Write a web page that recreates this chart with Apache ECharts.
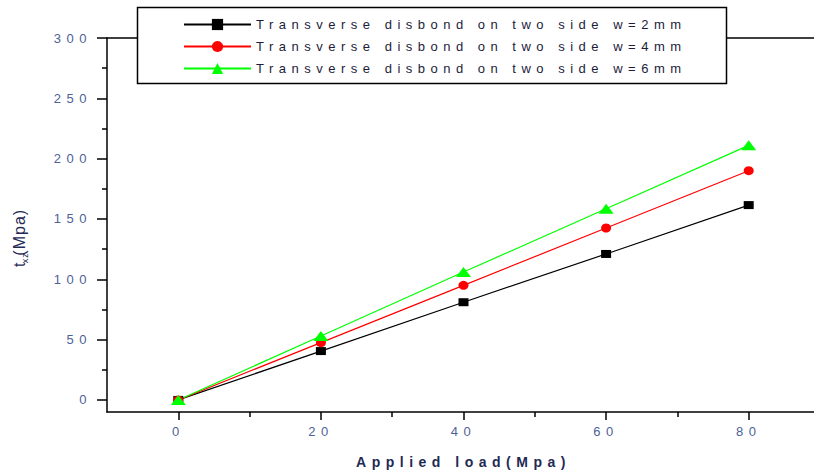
<!DOCTYPE html>
<html lang="en">
<head>
<meta charset="utf-8">
<title>Transverse disbond</title>
<script src="https://cdn.jsdelivr.net/npm/echarts@6/dist/echarts.min.js"></script>
<style>
  html, body { margin: 0; padding: 0; background: #fff; overflow: hidden; }
  #chart { width: 814px; height: 472px; overflow: hidden; }
  #chart svg text { letter-spacing: 5.5px; }
</style>
</head>
<body>
<div id="chart"></div>
<script>
// applied load (Mpa)
let loads = [0, 20, 40, 60, 80];
// t_xz (Mpa) for each disbond width
let w2mm = [0, 40.5, 81, 121, 161.5];
let w4mm = [0, 47.5, 95, 142.5, 190];
let w6mm = [0, 53, 106, 158.5, 211];

let seriesNames = [
    'Transverse disbond on two side w=2mm',
    'Transverse disbond on two side w=4mm',
    'Transverse disbond on two side w=6mm'
];

let xMajor = [0, 20, 40, 60, 80];
let xMinor = [10, 30, 50, 70];
let yMajor = [0, 50, 100, 150, 200, 250, 300];
let yMinor = [25, 75, 125, 175, 225, 275];

let labelColor = '#4d6199';
let fontFamily = 'Liberation Sans, Arial, sans-serif';

function pairs(ys){
    return loads.map((x, i) => [x, ys[i]]);
}

let Chart = echarts.init(document.getElementById('chart'), null, {renderer: 'svg'});

let option = {
    animation: false,
    textStyle: { fontFamily: fontFamily },
    grid: {
        left: 107, top: 38, width: 713, height: 374,
        outerBoundsMode: 'none', containLabel: false
    },
    legend: {
        orient: 'vertical',
        left: 183, top: 18, padding: 0,
        itemWidth: 67, itemHeight: 14, itemGap: 9,
        textStyle: { fontSize: 13, color: '#1c1c3a', fontFamily: fontFamily },
        data: seriesNames
    },
    graphic: [{
        type: 'rect', z: 3,
        shape: { x: 137.5, y: 7.5, width: 589, height: 76 },
        style: { fill: '#fff', stroke: '#000', lineWidth: 1.5 }
    }, {
        // keep the right edge of the plot open like the cropped original
        type: 'rect', z: 100,
        shape: { x: 806, y: 40, width: 10, height: 370 },
        style: { fill: '#fff' }
    }],
    xAxis: [{
        type: 'value', min: -10, max: 90,
        name: 'Applied load(Mpa)', nameLocation: 'middle', nameGap: 43,
        nameTextStyle: { fontSize: 14, fontWeight: 'bold', color: '#1f2a55' },
        axisLine: { onZero: false, lineStyle: { color: '#000', width: 1.5 } },
        axisTick: { customValues: xMajor, length: 8, lineStyle: { color: '#000', width: 1.5 } },
        axisLabel: { customValues: xMajor, margin: 13, fontSize: 13, color: labelColor },
        splitLine: { show: false }
    }, {
        type: 'value', min: -10, max: 90, position: 'bottom',
        axisLine: { show: false, onZero: false },
        axisTick: { customValues: xMinor, length: 5, lineStyle: { color: '#000', width: 1.5 } },
        axisLabel: { show: false },
        splitLine: { show: false }
    }, {
        // top frame line
        type: 'value', min: -10, max: 90, position: 'top',
        axisLine: { show: true, onZero: false, lineStyle: { color: '#000', width: 1.5 } },
        axisTick: { show: false },
        axisLabel: { show: false },
        splitLine: { show: false }
    }],
    yAxis: [{
        type: 'value', min: -10, max: 300,
        name: '{t|t}{s|xz}{t|(Mpa)}', nameLocation: 'middle', nameGap: 78, nameRotate: 90,
        nameTextStyle: {
            color: '#1f2a55',
            padding: [0, 28, 0, 0],
            rich: {
                t: { fontSize: 16, lineHeight: 20, color: '#1f2a55', fontFamily: fontFamily },
                s: { fontSize: 9, lineHeight: 20, verticalAlign: 'bottom', color: '#1f2a55', fontFamily: fontFamily }
            }
        },
        axisLine: { show: true, onZero: false, lineStyle: { color: '#000', width: 1.5 } },
        axisTick: { show: true, customValues: yMajor, length: 10, lineStyle: { color: '#000', width: 1.5 } },
        axisLabel: { customValues: yMajor, margin: 15, fontSize: 13, color: labelColor },
        splitLine: { show: false }
    }, {
        type: 'value', min: -10, max: 300, position: 'left',
        axisLine: { show: false, onZero: false },
        axisTick: { show: true, customValues: yMinor, length: 5, lineStyle: { color: '#000', width: 1.5 } },
        axisLabel: { show: false },
        splitLine: { show: false }
    }],
    series: [{
        name: seriesNames[0], type: 'line', data: pairs(w2mm),
        symbol: 'rect', symbolSize: [10, 8],
        itemStyle: { color: '#000' }, lineStyle: { color: '#000', width: 1.2 }
    }, {
        name: seriesNames[1], type: 'line', data: pairs(w4mm),
        symbol: 'circle', symbolSize: [10, 9],
        itemStyle: { color: '#ff0000' }, lineStyle: { color: '#ff0000', width: 1.2 }
    }, {
        name: seriesNames[2], type: 'line', data: pairs(w6mm),
        symbol: 'triangle', symbolSize: [15, 10],
        itemStyle: { color: '#00ff00' }, lineStyle: { color: '#00ff00', width: 1.2 }
    }]
};

Chart.setOption(option);

// y-axis title is not spaced out like the rest of the text
function fixSpacing(){
    let texts = document.querySelectorAll('#chart svg text');
    texts.forEach((t) => {
        let c = t.textContent;
        if(c === 't' || c === 'xz' || c === '(Mpa)'){
            t.style.letterSpacing = '1px';
        }
    });
}
Chart.on('finished', fixSpacing);
fixSpacing();
</script>
</body>
</html>
